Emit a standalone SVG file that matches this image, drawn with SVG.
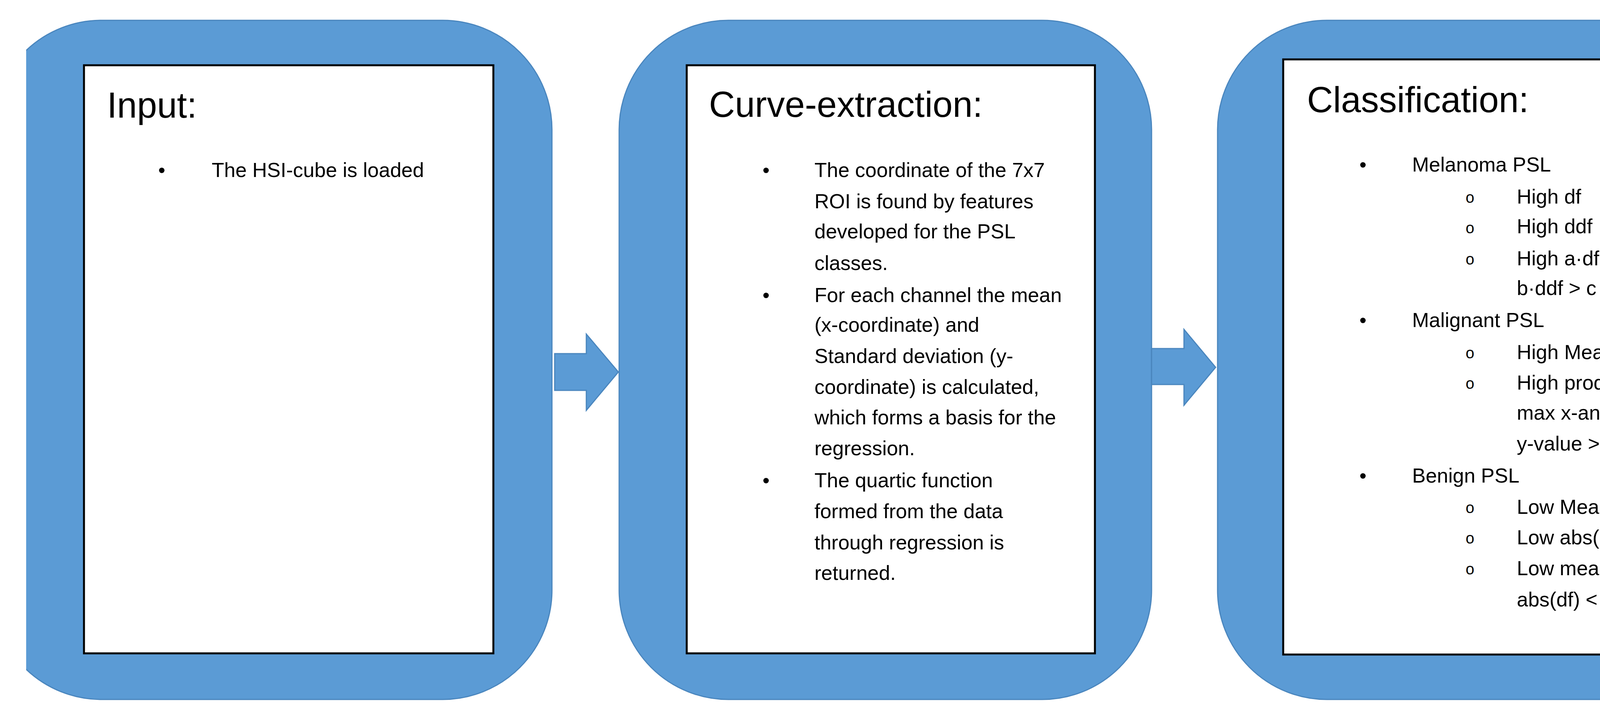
<svg xmlns="http://www.w3.org/2000/svg" width="4520" height="1840" viewBox="0 0 4520 1840">
<style>
.panel{fill:#5B9BD5;stroke:#4A86BE;stroke-width:3}
.box{fill:#fff;stroke:#000;stroke-width:5}
.arrow{fill:#5B9BD5;stroke:#4A86BE;stroke-width:3}
text{font-family:"Liberation Sans",Arial,sans-serif;fill:#000}
.title{font-size:92px}
.body{font-size:52px}
.sub{font-size:40px}
</style>
<defs>
<clipPath id="clip"><rect x="67" y="0" width="4400" height="1840"/></clipPath>
</defs>
<rect width="4520" height="1840" fill="#fff"/>
<g clip-path="url(#clip)">
<g id="input">
<rect class="panel" x="-20" y="52" width="1433" height="1738" rx="280"/>
<rect class="box" x="215" y="167" width="1048" height="1505"/>
<text class="title" x="274" y="301">Input:</text>
<text class="body" x="405" y="453">•</text>
<text class="body" x="542" y="453">The HSI-cube is loaded</text>
</g>
<g id="curve">
<rect class="panel" x="1585" y="52" width="1363" height="1738" rx="280"/>
<rect class="box" x="1758" y="167" width="1045" height="1505"/>
<text class="title" x="1815" y="299">Curve-extraction:</text>
<text class="body" x="1952" y="453">•</text>
<text class="body" x="1952" y="773">•</text>
<text class="body" x="1952" y="1247">•</text>
<text class="body" x="2085" y="453">The coordinate of the 7x7</text>
<text class="body" x="2085" y="533">ROI is found by features</text>
<text class="body" x="2085" y="610">developed for the PSL</text>
<text class="body" x="2085" y="691">classes.</text>
<text class="body" x="2085" y="773">For each channel the mean</text>
<text class="body" x="2085" y="849">(x-coordinate) and</text>
<text class="body" x="2085" y="929">Standard deviation (y-</text>
<text class="body" x="2085" y="1008">coordinate) is calculated,</text>
<text class="body" x="2085" y="1086">which forms a basis for the</text>
<text class="body" x="2085" y="1165">regression.</text>
<text class="body" x="2085" y="1247">The quartic function</text>
<text class="body" x="2085" y="1326">formed from the data</text>
<text class="body" x="2085" y="1406">through regression is</text>
<text class="body" x="2085" y="1484">returned.</text>
</g>
<g id="classification">
<rect class="panel" x="3117" y="52" width="1400" height="1738" rx="280"/>
<rect class="box" x="3285" y="152" width="1046" height="1523"/>
<text class="title" x="3346" y="287">Classification:</text>
<text class="body" x="3480" y="439">•</text>
<text class="body" x="3480" y="837">•</text>
<text class="body" x="3480" y="1235">•</text>
<text class="body" x="3615" y="439">Melanoma PSL</text>
<text class="body" x="3615" y="837">Malignant PSL</text>
<text class="body" x="3615" y="1235">Benign PSL</text>
<text class="sub" x="3752" y="519">o</text>
<text class="sub" x="3752" y="597">o</text>
<text class="sub" x="3752" y="677">o</text>
<text class="sub" x="3752" y="917">o</text>
<text class="sub" x="3752" y="995">o</text>
<text class="sub" x="3752" y="1313">o</text>
<text class="sub" x="3752" y="1391">o</text>
<text class="sub" x="3752" y="1470">o</text>
<text class="body" x="3883" y="521">High df</text>
<text class="body" x="3883" y="597">High ddf</text>
<text class="body" x="3883" y="679">High a·df +</text>
<text class="body" x="3883" y="755">b·ddf &gt; c</text>
<text class="body" x="3883" y="919">High Mean &gt; d</text>
<text class="body" x="3883" y="997">High product of</text>
<text class="body" x="3883" y="1074">max x-and max</text>
<text class="body" x="3883" y="1153">y-value &gt; e</text>
<text class="body" x="3883" y="1315">Low Mean &lt; f</text>
<text class="body" x="3883" y="1393">Low abs(df)</text>
<text class="body" x="3883" y="1472">Low mean +</text>
<text class="body" x="3883" y="1552">abs(df) &lt; g</text>
</g>
</g>
<g id="connectors">
<polygon class="arrow" points="1420,905 1501,905 1501,855 1583,952 1501,1050 1501,999 1420,999"/>
<polygon class="arrow" points="2948,892 3031,892 3031,843 3112,940 3031,1037 3031,984 2948,984"/>
</g>
</svg>
